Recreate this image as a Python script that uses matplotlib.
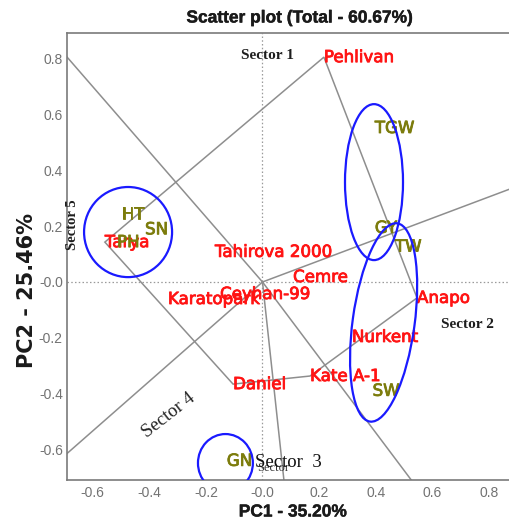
import numpy as np
import matplotlib
matplotlib.use("Agg")
import matplotlib.pyplot as plt
import matplotlib.patheffects as pe
from matplotlib.patches import Ellipse, Polygon
from matplotlib.ticker import FixedLocator, FixedFormatter

# Genotype scores (PC1, PC2)
genotypes = ["Pehlivan", "Anapo", "Kate A-1", "Daniel", "Tarya",
             "Tahirova 2000", "Cemre", "Ceyhan-99", "Karatopark", "Nurkent"]
geno_pc1 = [0.217, 0.546, 0.168, -0.104, -0.557, -0.168, 0.108, -0.150, -0.334, 0.316]
geno_pc2 = [0.806, -0.057, -0.337, -0.366, 0.143, 0.108, 0.018, -0.043, -0.061, -0.197]

# Trait scores (PC1, PC2)
traits = ["TGW", "GY", "TW", "SW", "HT", "SN", "PH", "GN"]
trait_pc1 = [0.397, 0.397, 0.468, 0.389, -0.498, -0.415, -0.514, -0.126]
trait_pc2 = [0.552, 0.194, 0.127, -0.390, 0.243, 0.189, 0.143, -0.641]

# Vertex genotypes of the convex hull, in drawing order
hull = ["Pehlivan", "Anapo", "Kate A-1", "Daniel", "Tarya"]

# Axis tick values and labels
tick_vals = [-0.6, -0.4, -0.2, 0.0, 0.2, 0.4, 0.6, 0.8]
tick_text = ["-0.6", "-0.4", "-0.2", "-0.0", "0.2", "0.4", "0.6", "0.8"]

title = "Scatter plot (Total - 60.67%)"
xlabel = "PC1 - 35.20%"
ylabel = "PC2 - 25.46%"

RED = "#ff1414"
OLIVE = "#7c7c0c"
GRAY = "#8e8e8e"
BLUE = "#1a1aff"

W, H = 509, 522
fig = plt.figure(figsize=(W / 100, H / 100), dpi=100)

xmin, xmax = -0.6908, 1.0
ymin, ymax = -0.7097, 0.8925
ax = fig.add_axes([67 / W, 42 / H, (xmax - xmin) * 283 / W, 447 / H])
ax.set_xlim(xmin, xmax)
ax.set_ylim(ymin, ymax)

for s in ax.spines.values():
    s.set_color("#7a7a7a")
    s.set_linewidth(1.2)

ax.xaxis.set_major_locator(FixedLocator(tick_vals))
ax.xaxis.set_major_formatter(FixedFormatter(tick_text))
ax.yaxis.set_major_locator(FixedLocator(tick_vals))
ax.yaxis.set_major_formatter(FixedFormatter(tick_text))
ax.tick_params(length=0, labelsize=10, labelcolor="#727272")
ax.tick_params(axis="x", pad=4)
ax.tick_params(axis="y", pad=3)
for lab in ax.get_xticklabels() + ax.get_yticklabels():
    lab.set_family("Liberation Sans")

# Reference lines through the origin
ax.axhline(0, color="#9a9a9a", lw=0.9, ls=(0, (1.2, 1.8)), zorder=1)
ax.axvline(0, color="#9a9a9a", lw=0.9, ls=(0, (1.2, 1.8)), zorder=1)

gx = dict(zip(genotypes, geno_pc1))
gy = dict(zip(genotypes, geno_pc2))
verts = np.array([[gx[n], gy[n]] for n in hull])

# Convex hull polygon
ax.add_patch(Polygon(verts, closed=True, fill=False, edgecolor=GRAY, lw=1.1, zorder=2))

# Rays from the origin perpendicular to each hull side
for i in range(len(verts)):
    p, q = verts[i], verts[(i + 1) % len(verts)]
    d = q - p
    t = -np.dot(p, d) / np.dot(d, d)
    foot = p + t * d
    end = foot / np.linalg.norm(foot) * 3.0
    ax.plot([0, end[0]], [0, end[1]], color=GRAY, lw=1.1, zorder=2)


def heavy(color, w=0.6):
    return [pe.withStroke(linewidth=w, foreground=color)]


# Genotype labels
for n, x, y in zip(genotypes, geno_pc1, geno_pc2):
    ax.text(x, y, n, color=RED, fontsize=12, family="DejaVu Sans",
            ha="left", va="center", zorder=4, path_effects=heavy(RED))

# Trait labels
for n, x, y in zip(traits, trait_pc1, trait_pc2):
    ax.text(x, y, n, color=OLIVE, fontsize=12, family="DejaVu Sans",
            ha="left", va="center", zorder=4, path_effects=heavy(OLIVE))

# Group ellipses
ellipses = [
    ((-0.475, 0.179), 0.311, 0.323, 0.0),
    ((0.394, 0.358), 0.205, 0.559, 0.0),
    ((0.428, -0.145), 0.219, 0.717, -7.7),
    ((-0.131, -0.649), 0.194, 0.208, 0.0),
]
for c, w, h, a in ellipses:
    ax.add_patch(Ellipse(c, w, h, angle=a, fill=False, edgecolor=BLUE, lw=1.6, zorder=5))

# Sector names
serif = "Liberation Serif"
ax.text(0.016, 0.812, "Sector 1", family=serif, fontsize=11, fontweight="bold",
        color="#1e1e1e", ha="center", va="center", zorder=4)
ax.text(0.724, -0.151, "Sector 2", family=serif, fontsize=11, fontweight="bold",
        color="#1e1e1e", ha="center", va="center", zorder=4)
ax.text(-0.025, -0.648, "Sector  3", family=serif, fontsize=13.5,
        color="#111111", ha="left", va="center", zorder=4)
ax.text(-0.020, -0.668, "Sector", family=serif, fontsize=9,
        color="#333333", ha="left", va="center", zorder=3)
ax.text(-0.330, -0.478, "Sector 4", family=serif, fontsize=13.5, rotation=38,
        color="#222222", ha="center", va="center", rotation_mode="anchor", zorder=4)
ax.text(-0.670, 0.206, "Sector 5", family=serif, fontsize=10.5, fontweight="bold",
        rotation=90, color="#1e1e1e", ha="center", va="center", zorder=4)

# Titles
fig.text(300 / W, 1 - 18 / H, title, family="Liberation Sans", fontweight="bold",
         fontsize=12.5, color="#1a1a1a", ha="center", va="center",
         path_effects=heavy("#1a1a1a", 0.3))
fig.text(293 / W, 1 - 512 / H, xlabel, family="Liberation Sans", fontweight="bold",
         fontsize=12.5, color="#1a1a1a", ha="center", va="center",
         path_effects=heavy("#1a1a1a", 0.3))
fig.text(27 / W, 1 - 291 / H, ylabel, family="DejaVu Sans", fontweight="bold",
         fontsize=15, color="#1a1a1a", ha="center", va="center", rotation=90)

fig.savefig("out.png", dpi=100)
